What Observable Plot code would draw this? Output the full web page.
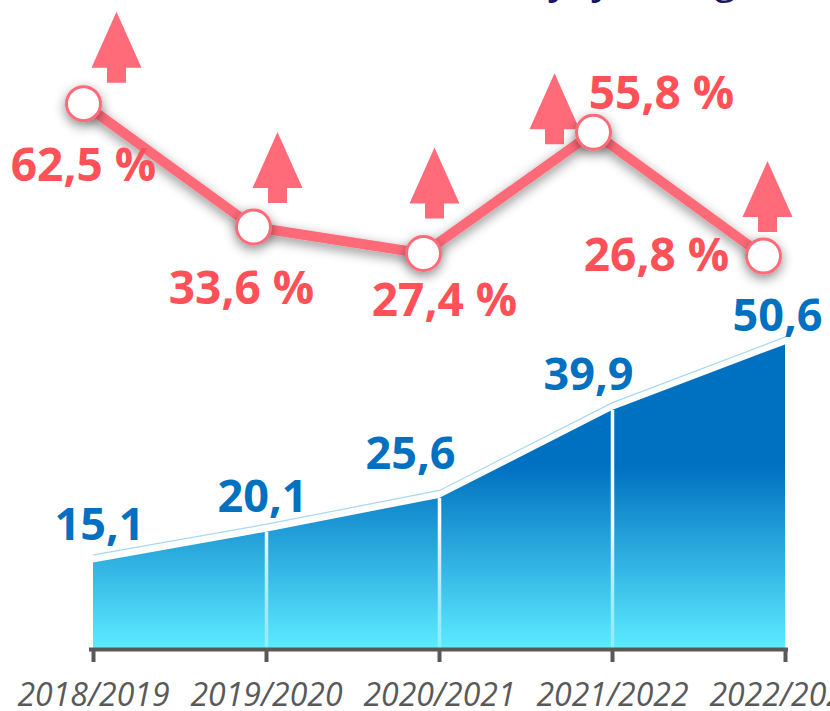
<!DOCTYPE html>
<html><head><meta charset="utf-8">
<script src="https://cdn.jsdelivr.net/npm/d3@7"></script>
<script src="https://cdn.jsdelivr.net/npm/@observablehq/plot@0.6"></script>
<style>
html,body{margin:0;padding:0;background:#fff;}
#wrap{position:relative;width:830px;height:711px;overflow:hidden;font-family:"Open Sans",sans-serif;}
#wrap svg{position:absolute;left:0;top:0;}
#title{position:absolute;left:486px;top:-47px;font-size:42px;font-style:italic;color:#1B1466;white-space:nowrap;line-height:48px;}
</style></head><body>
<div id="wrap"><div id="title">(%, yoy change, bln)</div></div>
<script>
// ---- data ----
const seasons = ["2018/2019", "2019/2020", "2020/2021", "2021/2022", "2022/2023"];
const volume = [15.1, 20.1, 25.6, 39.9, 50.6];
const growth = [62.5, 33.6, 27.4, 55.8, 26.8];

const fmt = v => v.toFixed(1).replace(".", ",");
const areaData = seasons.map((s, i) => ({season: s, value: volume[i], i}));
const lineData = seasons.map((s, i) => ({season: s, value: growth[i], i}));

const FONT = '"Open Sans", "Segoe UI", sans-serif';
const BLUE = "#0070C0";
const PINK = "#FF6B79";
const RED = "#FF5157";

// layout nudges for labels (dx, dy in px)
const blueNudge = [[6, -37], [-4, -35], [-29, -44], [-24, -35], [-8, -28]];
const redNudge = [[0, 63], [-12, 62], [21, 48], [68, -38], [-107, 0]];
const arrowNudge = [[33, -21], [24, -24], [11, -35], [-39, 12], [4, -24]];

// ---- lower chart: area ----
const area = Plot.plot({
  width: 830, height: 711,
  marginLeft: 91, marginRight: 44, marginTop: 41, marginBottom: 62,
  x: {type: "point", domain: seasons, padding: 0, axis: null},
  y: {domain: [1, 100], axis: null},
  style: {fontFamily: FONT, background: "transparent", color: "#595959"},
  marks: [
    Plot.areaY(areaData, {x: "season", y: "value", fill: "url(#areaGrad)", clip: true}),
    Plot.ruleX(areaData.filter(d => d.i > 0 && d.i < 4), {x: "season", y1: 1, y2: "value", stroke: "url(#sepGrad)", strokeWidth: 3.5}),
    Plot.line(areaData, {x: "season", y: "value", dy: -8, stroke: "#A9D7F1", strokeWidth: 1.2}),
    Plot.ruleY([1], {stroke: "#595959", strokeWidth: 4, strokeLinecap: "square"}),
    Plot.axisX({label: null, tickSize: 13, tickPadding: 21, fontSize: 32, fontStyle: "italic", stroke: "#595959", strokeWidth: 4, fill: "#595959"}),
    ...areaData.map((d, i) => Plot.text([d], {
      x: "season", y: "value", text: d => fmt(d.value),
      dx: blueNudge[i][0], dy: blueNudge[i][1],
      fill: BLUE, fontSize: 45, fontWeight: 700
    }))
  ]
});

const defs = d3.select(area).insert("defs", ":first-child");
const ag = defs.append("linearGradient").attr("id", "areaGrad").attr("gradientUnits", "userSpaceOnUse")
  .attr("x1", 0).attr("y1", 465).attr("x2", 0).attr("y2", 648);
ag.append("stop").attr("offset", 0).attr("stop-color", "#0070C0");
ag.append("stop").attr("offset", 1).attr("stop-color", "#5CEBFF");
const sg = defs.append("linearGradient").attr("id", "sepGrad").attr("gradientUnits", "userSpaceOnUse")
  .attr("x1", 0).attr("y1", 520).attr("x2", 0).attr("y2", 648);
sg.append("stop").attr("offset", 0).attr("stop-color", "#ffffff").attr("stop-opacity", 1);
sg.append("stop").attr("offset", 1).attr("stop-color", "#ffffff").attr("stop-opacity", 0.3);

// ---- upper chart: growth line ----
const arrowSymbol = {
  draw(ctx) {
    ctx.moveTo(-9.5, 0); ctx.lineTo(9.5, 0); ctx.lineTo(9.5, -15);
    ctx.lineTo(25, -15); ctx.lineTo(0, -71); ctx.lineTo(-25, -15);
    ctx.lineTo(-9.5, -15); ctx.closePath();
  }
};

const linePlot = Plot.plot({
  width: 830, height: 711,
  marginLeft: 83, marginRight: 67, marginTop: 28.4, marginBottom: 341,
  x: {type: "point", domain: seasons, padding: 0, axis: null},
  y: {domain: [0, 80], axis: null},
  style: {fontFamily: FONT, background: "transparent"},
  marks: [
    ...lineData.map((d, i) => Plot.dot([d], {
      x: "season", y: "value", r: 10, symbol: arrowSymbol, fill: PINK, stroke: "none",
      dx: arrowNudge[i][0], dy: arrowNudge[i][1]
    })),
    Plot.line(lineData, {x: "season", y: "value", stroke: PINK, strokeWidth: 10}),
    Plot.dot(lineData, {x: "season", y: "value", r: 17, fill: "white", stroke: PINK, strokeWidth: 3}),
    ...lineData.map((d, i) => Plot.text([d], {
      x: "season", y: "value", text: d => fmt(d.value) + " %",
      dx: redNudge[i][0], dy: redNudge[i][1],
      fill: RED, fontSize: 46, fontWeight: 700
    }))
  ]
});
const ldefs = d3.select(linePlot).insert("defs", ":first-child");
const flt = ldefs.append("filter").attr("id", "lineShadow").attr("filterUnits", "userSpaceOnUse")
  .attr("x", 0).attr("y", 0).attr("width", 830).attr("height", 711);
flt.append("feDropShadow").attr("dx", 0).attr("dy", 4).attr("stdDeviation", 6)
  .attr("flood-color", "#000").attr("flood-opacity", 0.45);
d3.select(linePlot).selectAll('g[aria-label="line"]').attr("filter", "url(#lineShadow)");
d3.select(linePlot).selectAll("circle").attr("filter", "url(#lineShadow)");

const wrap = document.getElementById("wrap");
wrap.appendChild(area);
wrap.appendChild(linePlot);
</script>
</body></html>
